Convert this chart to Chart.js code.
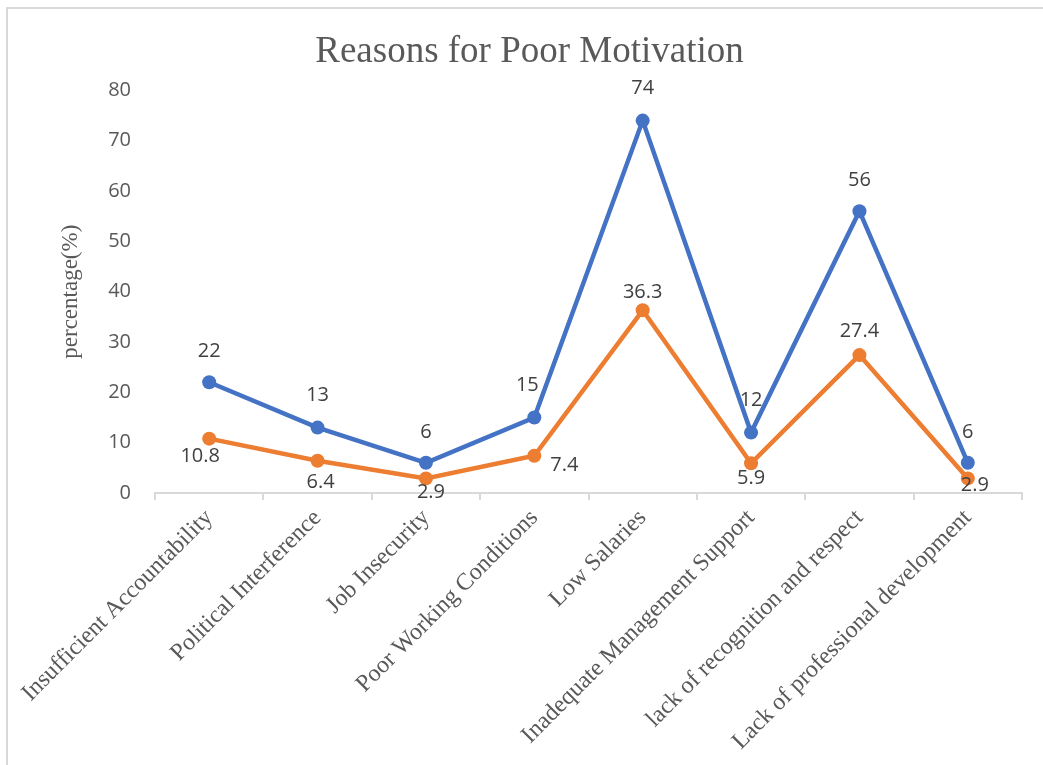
<!DOCTYPE html>
<html>
<head>
<meta charset="utf-8">
<title>Reasons for Poor Motivation</title>
<script src="https://cdn.jsdelivr.net/npm/chart.js@4.4.1/dist/chart.umd.min.js"></script>
<style>
    html, body { margin: 0; padding: 0; background: #fff; }
    .frame {
        position: absolute;
        left: 6px;
        top: 7px;
        width: 1037px;
        height: 758px;
        border-left: 2px solid #d9d9d9;
        border-top: 2px solid #d9d9d9;
    }
    .wrap { position: absolute; left: 0; top: 0; width: 1043px; height: 765px; }
</style>
</head>
<body>
<div class="frame"></div>
<div class="wrap"><canvas id="chart" width="1043" height="765"></canvas></div>
<script>
const categories = [
    "Insufficient Accountability",
    "Political Interference",
    "Job Insecurity",
    "Poor Working Conditions",
    "Low Salaries",
    "Inadequate Management Support",
    "lack of recognition and respect",
    "Lack of professional development"
];
const countValues = [22, 13, 6, 15, 74, 12, 56, 6];
const percentValues = [10.8, 6.4, 2.9, 7.4, 36.3, 5.9, 27.4, 2.9];
const yTicks = [0, 10, 20, 30, 40, 50, 60, 70, 80];

// where each value label sits relative to its point (dx, dy in px)
const blueLabelOffsets = [[0, -31], [0, -32], [0, -31], [-7, -32], [0, -32], [0, -32], [0, -31], [0, -31]];
const orangeLabelOffsets = [[-9, 18], [3, 22], [5, 14], [30, 10], [0, -18], [0, 15], [0, -24], [7, 7]];

const valueLabels = {
    id: "valueLabels",
    afterDatasetsDraw(chart) {
        const ctx = chart.ctx;
        ctx.save();
        ctx.font = "20px 'Open Sans'";
        ctx.fillStyle = "#404040";
        ctx.textAlign = "center";
        ctx.textBaseline = "middle";
        chart.data.datasets.forEach((ds, i) => {
            const meta = chart.getDatasetMeta(i);
            meta.data.forEach((pt, j) => {
                const off = ds.labelOffsets[j];
                ctx.fillText(String(ds.data[j]), pt.x + off[0], pt.y + off[1]);
            });
        });
        ctx.restore();
    }
};

const ctx = document.getElementById("chart").getContext("2d");
new Chart(ctx, {
    type: "line",
    data: {
        labels: categories,
        datasets: [
            {
                label: "Count",
                data: countValues,
                borderColor: "#4472C4",
                backgroundColor: "#4472C4",
                borderWidth: 4.5,
                pointRadius: 7,
                pointBorderWidth: 0,
                pointBackgroundColor: "#4472C4",
                tension: 0,
                labelOffsets: blueLabelOffsets
            },
            {
                label: "Percentage",
                data: percentValues,
                borderColor: "#ED7D31",
                backgroundColor: "#ED7D31",
                borderWidth: 4.5,
                pointRadius: 7,
                pointBorderWidth: 0,
                pointBackgroundColor: "#ED7D31",
                tension: 0,
                labelOffsets: orangeLabelOffsets
            }
        ]
    },
    options: {
        responsive: false,
        animation: false,
        layout: { padding: { left: 37, right: 21, top: 0, bottom: 0 } },
        plugins: {
            legend: { display: false },
            tooltip: { enabled: false },
            title: {
                display: true,
                text: "Reasons for Poor Motivation",
                color: "#595959",
                font: { family: "'Liberation Serif'", size: 37, weight: "normal" },
                padding: { top: 30, bottom: 16 }
            }
        },
        scales: {
            x: {
                offset: true,
                grid: {
                    display: true,
                    offset: true,
                    drawOnChartArea: false,
                    drawTicks: true,
                    tickLength: 7,
                    color: "#d9d9d9",
                    lineWidth: 2
                },
                border: { display: true, color: "#d9d9d9", width: 2 },
                ticks: {
                    autoSkip: false,
                    minRotation: 45,
                    maxRotation: 45,
                    padding: 4,
                    color: "#595959",
                    font: { family: "'Liberation Serif'", size: 24 }
                },
                afterFit(scale) {
                    scale.height = 272;
                    scale.paddingLeft = 0;
                    scale.paddingRight = 0;
                }
            },
            y: {
                min: 0,
                max: 80,
                grid: { display: false },
                border: { display: false },
                afterBuildTicks(scale) { scale.ticks = yTicks.map(v => ({ value: v })); },
                ticks: {
                    padding: 16,
                    color: "#595959",
                    font: { family: "'Open Sans'", size: 20 }
                },
                title: {
                    display: true,
                    text: "percentage(%)",
                    color: "#595959",
                    padding: { top: 20, bottom: 4 },
                    font: { family: "'Liberation Serif'", size: 23 }
                },
                afterFit(scale) { scale.width = 155 - 37; }
            }
        }
    },
    plugins: [valueLabels]
});
</script>
</body>
</html>
